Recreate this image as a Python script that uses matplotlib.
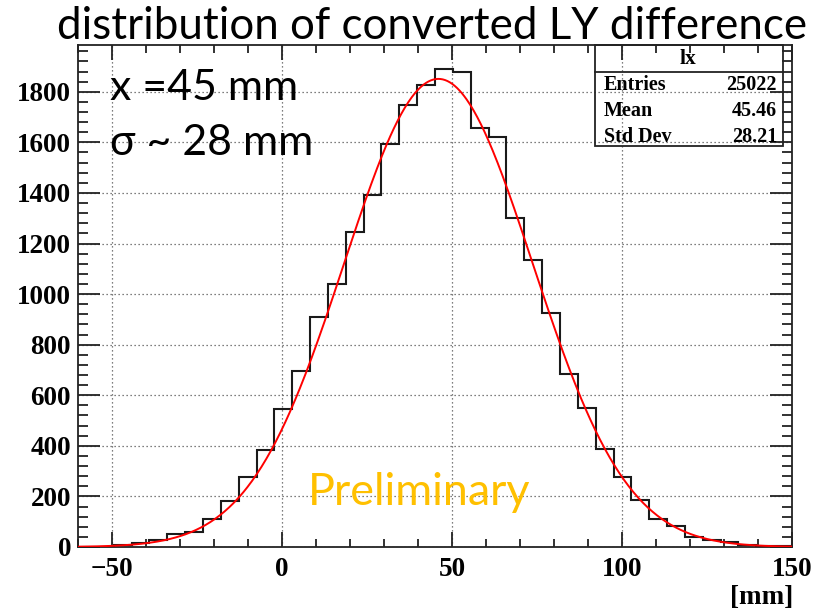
import matplotlib
matplotlib.use("Agg")
import matplotlib.pyplot as plt
import numpy as np
from matplotlib.ticker import MultipleLocator
from matplotlib.patches import Rectangle

# ---------------- data ----------------
bin_low = -60.0
bin_high = 150.0
counts = [0, 0, 7, 15, 29, 51, 59, 112, 180, 275, 382, 545, 696, 911, 1039,
          1245, 1390, 1593, 1749, 1828, 1889, 1877, 1657, 1620, 1300, 1134,
          925, 684, 550, 387, 275, 185, 112, 82, 40, 29, 21, 7, 4, 2]
fit_constant = 1851.0
fit_mean = 46.0
fit_sigma = 27.7

title_text = "distribution of converted LY difference"
xticks = [-50, 0, 50, 100, 150]
yticks = [0, 200, 400, 600, 800, 1000, 1200, 1400, 1600, 1800]
stats_name = "lx"
stats_labels = ["Entries", "Mean", "Std Dev"]
stats_values = ["25022", "45.46", "28.21"]
note_lines = ["x =45 mm", "\u03c3 ~ 28 mm"]
prelim_text = "Preliminary"
xlabel_text = "[mm]"

# ---------------- figure ----------------
W, H = 817, 613
fig = plt.figure(figsize=(W / 100, H / 100), dpi=100)
ax = fig.add_axes([78 / W, (H - 547) / H, (792 - 78) / W, (547 - 45) / H])

edges = np.linspace(bin_low, bin_high, len(counts) + 1)
ax.stairs(counts, edges, color="#1a1a1a", lw=1.5, zorder=3)

xf = np.linspace(bin_low, bin_high, 600)
yf = fit_constant * np.exp(-0.5 * ((xf - fit_mean) / fit_sigma) ** 2)
ax.plot(xf, yf, color="red", lw=1.4, zorder=4)

ax.set_xlim(bin_low, bin_high)
ax.set_ylim(0, 1985)

serif = dict(family="Liberation Serif", weight="bold")
ax.set_xticks(xticks)
ax.set_yticks(yticks)
ax.xaxis.set_minor_locator(MultipleLocator(10))
ax.yaxis.set_minor_locator(MultipleLocator(40))
ax.set_xticklabels(["\u221250", "0", "50", "100", "150"], fontsize=19.5, **serif)
ax.set_yticklabels([str(v) for v in yticks], fontsize=19.5, **serif)

ax.tick_params(axis="both", which="both", direction="in", top=True, right=True,
               color="#222222", width=1.3)
ax.tick_params(axis="x", which="major", length=11, pad=7)
ax.tick_params(axis="x", which="minor", length=6)
ax.tick_params(axis="y", which="major", length=16, pad=5)
ax.tick_params(axis="y", which="minor", length=7.5)
for sp in ax.spines.values():
    sp.set_linewidth(1.3)
    sp.set_color("#222222")

ax.grid(True, which="major", linestyle=(0, (1, 2.2)), color="#555555", lw=0.9, zorder=5)
ax.set_axisbelow(False)

# stats box
bx0, bx1, by0, by1, byh = 595, 783, 146, 45, 71.5
def fx(p):
    return p / W
def fy(p):
    return 1 - p / H
fig.patches.append(Rectangle((fx(bx0), fy(by0)), fx(bx1) - fx(bx0), fy(by1) - fy(by0),
                             transform=fig.transFigure, fill=False, ec="#222222", lw=1.3, zorder=6))
fig.lines.append(plt.Line2D([fx(bx0), fx(bx1)], [fy(byh), fy(byh)], transform=fig.transFigure,
                            color="#222222", lw=1.3, zorder=6))
fig.text(fx(688), fy(58.5), stats_name, ha="center", va="center", fontsize=15.5, **serif)
rows_y = [85, 111, 137]
for lab, val, yy in zip(stats_labels, stats_values, rows_y):
    fig.text(fx(604), fy(yy), lab, ha="left", va="center", fontsize=14.5, **serif)
    fig.text(fx(777), fy(yy), val, ha="right", va="center", fontsize=14.5, **serif)

# texts
sans = ["Lato", "DejaVu Sans"]
fig.text(fx(57), fy(39), title_text, ha="left", va="baseline", fontsize=31.6, family=sans)
fig.text(fx(110), fy(100), note_lines[0], ha="left", va="baseline", fontsize=30.8, family=sans)
fig.text(fx(110), fy(155), note_lines[1], ha="left", va="baseline", fontsize=30.8, family=sans)
fig.text(fx(308), fy(505), prelim_text, ha="left", va="baseline", fontsize=32.3, family=sans,
         color="#FFC000")
fig.text(fx(793), fy(598), xlabel_text, ha="right", va="center", fontsize=19.5, **serif)

fig.savefig("out.png", dpi=100)
